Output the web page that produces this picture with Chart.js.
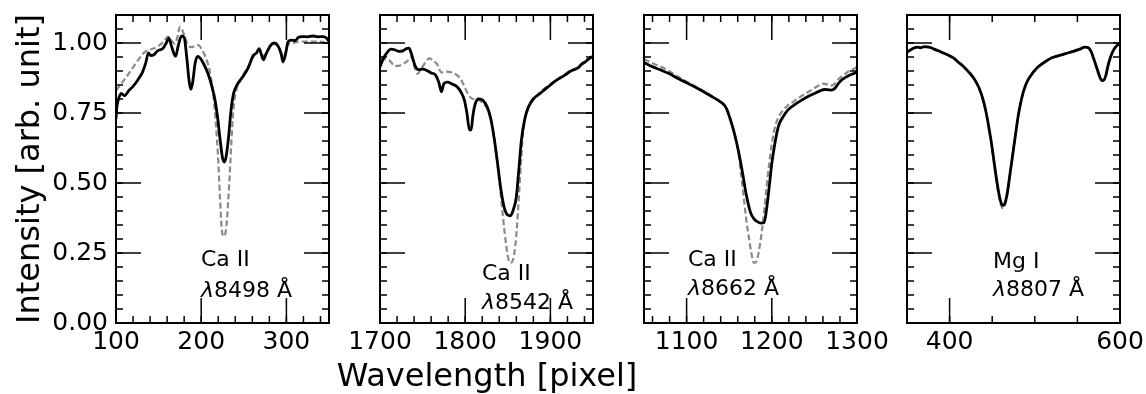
<!DOCTYPE html>
<html><head><meta charset="utf-8">
<script src="https://cdn.jsdelivr.net/npm/chart.js@4"></script>
<style>
html,body{margin:0;padding:0;background:#fff;}
#wrap{position:relative;width:1146px;height:394px;overflow:hidden;font-family:'DejaVu Sans',sans-serif;color:#000;}
canvas{position:absolute;left:0;top:0;}
.t{position:absolute;white-space:nowrap;}
.ann{font-size:22px;line-height:26px;height:26px;}
.ttl{font-size:32px;line-height:40px;height:40px;text-align:center;}
</style></head><body>
<div id="wrap">
<canvas id="c1" width="1146" height="394"></canvas>
<canvas id="c2" width="1146" height="394"></canvas>
<canvas id="c3" width="1146" height="394"></canvas>
<canvas id="c4" width="1146" height="394"></canvas>
<div class="t ttl" style="left:-172px;top:149px;width:400px;transform:rotate(-90deg);">Intensity [arb. unit]</div>
<div class="t ttl" style="left:287px;top:355px;width:400px;">Wavelength [pixel]</div>
<div class="t ann" style="left:201px;top:246px;">Ca II</div>
<div class="t ann" style="left:201px;top:277px;"><i>λ</i>8498 Å</div>
<div class="t ann" style="left:482px;top:260px;">Ca II</div>
<div class="t ann" style="left:482px;top:289px;"><i>λ</i>8542 Å</div>
<div class="t ann" style="left:688px;top:246px;">Ca II</div>
<div class="t ann" style="left:688px;top:275px;"><i>λ</i>8662 Å</div>
<div class="t ann" style="left:993px;top:248px;">Mg I</div>
<div class="t ann" style="left:993px;top:276px;"><i>λ</i>8807 Å</div>
</div>
<script>
// ---------- Panel 1: Ca II 8498 ----------
const p1SolidX = [100,101,103,106,110,115,120,126,131,135,138,141,144,149,155,159,162,165,168,170,173,177,180,183,186,188,190,193,196,199,203,208,213,216,219,222,225,227,229,232,235,238,242,249,255,261,265,268,271,273,276,281,286,290,294,296,299,302,306,310,314,318,325,331,337,343,347,350];
const p1SolidY = [0.73,0.77,0.80,0.82,0.812,0.83,0.845,0.87,0.895,0.93,0.965,0.955,0.957,0.973,0.98,1.0,1.017,0.99,0.962,0.952,0.99,1.025,1.02,0.95,0.86,0.835,0.86,0.93,0.952,0.945,0.925,0.89,0.84,0.80,0.74,0.66,0.59,0.575,0.59,0.66,0.76,0.82,0.85,0.88,0.91,0.955,0.965,0.98,0.955,0.94,0.96,0.99,1.0,0.99,0.96,0.933,0.96,1.005,1.01,1.008,1.02,1.023,1.022,1.025,1.022,1.023,1.018,1.005];
const p1DashX = [100,105,110,117,125,132,138,144,150,156,161,166,169,172,175,178,181,185,189,193,197,201,205,210,214,217,220,222,224,226,228,230,232,234,236,238,241,245,250,256,262,268,272,276,282,287,291,295,298,302,308,315,325,335,345,350];
const p1DashY = [0.83,0.85,0.87,0.90,0.935,0.963,0.975,0.98,0.99,1.005,1.023,1.005,0.998,1.02,1.058,1.045,1.02,0.99,0.985,0.99,0.992,0.975,0.95,0.90,0.82,0.72,0.58,0.45,0.34,0.31,0.315,0.36,0.45,0.56,0.68,0.77,0.83,0.86,0.89,0.92,0.955,0.975,0.955,0.96,0.99,0.995,0.985,0.95,0.955,0.995,1.0,1.005,1.005,1.005,1.002,0.995];

// ---------- Panel 2: Ca II 8542 ----------
const p2SolidX = [1700,1704,1708,1713,1718,1722,1727,1731,1734,1737,1741,1745,1750,1755,1760,1765,1769,1772,1775,1779,1785,1790,1795,1799,1802,1805,1807,1809,1812,1816,1821,1826,1830,1834,1838,1842,1846,1850,1853,1856,1860,1863,1866,1870,1874,1880,1888,1895,1900,1906,1911,1917,1923,1928,1932,1937,1941,1946,1950];
const p2SolidY = [0.915,0.945,0.965,0.978,0.975,0.97,0.972,0.98,0.982,0.96,0.92,0.905,0.907,0.902,0.893,0.886,0.86,0.826,0.855,0.86,0.853,0.845,0.825,0.796,0.75,0.69,0.69,0.74,0.785,0.80,0.795,0.77,0.73,0.66,0.57,0.475,0.41,0.385,0.383,0.40,0.45,0.55,0.654,0.73,0.77,0.80,0.82,0.838,0.85,0.865,0.874,0.885,0.898,0.905,0.91,0.925,0.933,0.945,0.952];
const p2DashX = [1700,1706,1712,1717,1721,1727,1732,1737,1740,1744,1748,1752,1758,1763,1767,1772,1778,1784,1790,1795,1799,1804,1809,1814,1819,1824,1829,1833,1837,1841,1845,1848,1851,1853,1856,1859,1862,1865,1868,1872,1878,1885,1892,1900,1908,1915,1922,1930,1938,1945,1950];
const p2DashY = [0.945,0.942,0.935,0.918,0.918,0.925,0.935,0.95,0.92,0.89,0.905,0.925,0.945,0.935,0.925,0.895,0.898,0.895,0.886,0.87,0.845,0.815,0.80,0.80,0.79,0.775,0.74,0.68,0.59,0.48,0.36,0.28,0.225,0.215,0.225,0.28,0.40,0.55,0.68,0.75,0.795,0.815,0.835,0.853,0.87,0.885,0.898,0.91,0.93,0.945,0.955];

// ---------- Panel 3: Ca II 8662 ----------
const p3SolidX = [1050,1060,1070,1080,1090,1100,1110,1120,1130,1137,1142,1147,1151,1155,1159,1163,1166,1169,1172,1175,1179,1183,1187,1191,1194,1197,1200,1203,1206,1209,1214,1219,1226,1235,1243,1250,1256,1262,1266,1270,1274,1278,1282,1287,1292,1297,1300];
const p3SolidY = [0.93,0.915,0.903,0.89,0.873,0.858,0.843,0.826,0.808,0.795,0.785,0.765,0.73,0.69,0.64,0.58,0.53,0.475,0.43,0.395,0.372,0.362,0.357,0.358,0.41,0.487,0.57,0.63,0.68,0.713,0.74,0.761,0.778,0.796,0.81,0.82,0.828,0.834,0.833,0.832,0.838,0.855,0.868,0.878,0.886,0.892,0.898];
const p3DashX = [1050,1060,1070,1080,1090,1100,1110,1120,1130,1138,1145,1150,1155,1158,1161,1164,1167,1170,1173,1176,1179,1182,1185,1188,1191,1194,1197,1200,1203,1207,1212,1218,1225,1232,1240,1248,1255,1260,1264,1268,1272,1278,1284,1290,1296,1300];
const p3DashY = [0.943,0.928,0.915,0.898,0.88,0.862,0.845,0.828,0.81,0.795,0.775,0.74,0.69,0.65,0.608,0.53,0.45,0.37,0.308,0.25,0.215,0.22,0.26,0.32,0.40,0.49,0.57,0.64,0.69,0.73,0.755,0.775,0.79,0.805,0.82,0.835,0.848,0.855,0.853,0.848,0.85,0.87,0.885,0.898,0.907,0.915];

// ---------- Panel 4: Mg I 8807 ----------
const p4SolidX = [350,354,358,362,366,370,374,378,382,386,392,398,404,410,416,422,428,433,437,440,443,446,449,452,455,458,461,463,465,468,471,474,477,480,483,487,492,498,504,512,520,528,536,544,552,559,563,566,569,572,575,578,580,583,586,589,593,597,600];
const p4SolidY = [0.968,0.975,0.982,0.985,0.983,0.987,0.986,0.983,0.978,0.973,0.965,0.957,0.948,0.932,0.917,0.898,0.876,0.85,0.82,0.79,0.75,0.70,0.645,0.58,0.515,0.46,0.425,0.42,0.428,0.47,0.535,0.60,0.665,0.73,0.78,0.83,0.868,0.895,0.915,0.933,0.947,0.955,0.962,0.969,0.977,0.985,0.983,0.97,0.945,0.918,0.89,0.868,0.866,0.88,0.92,0.951,0.978,0.993,0.997];
const p4DashX = [350,356,362,368,374,380,386,392,398,404,410,416,422,428,433,437,440,443,446,449,452,455,458,461,463,465,468,471,474,477,480,483,487,492,498,504,512,520,528,536,544,552,559,563,566,569,572,575,578,580,583,586,589,593,597,600];
const p4DashY = [0.966,0.978,0.984,0.985,0.985,0.98,0.972,0.964,0.956,0.947,0.931,0.916,0.897,0.874,0.848,0.818,0.787,0.746,0.695,0.638,0.572,0.505,0.45,0.415,0.41,0.42,0.465,0.53,0.597,0.663,0.728,0.779,0.829,0.867,0.894,0.914,0.932,0.946,0.954,0.961,0.968,0.976,0.984,0.982,0.969,0.944,0.917,0.889,0.867,0.865,0.879,0.919,0.95,0.977,0.992,0.996];

// ---------- Axes / ticks ----------
const yRange = [0, 1.1];
const yMajorTicks = [0, 0.25, 0.5, 0.75, 1.0];
const yMinorStep = 0.05;
const p1XRange = [100, 350], p1XTicks = [100, 200, 300];
const p2XRange = [1700, 1950], p2XTicks = [1700, 1800, 1900];
const p3XRange = [1050, 1300], p3XTicks = [1100, 1200, 1300];
const p4XRange = [350, 600], p4XTicks = [400, 600];
const xMinorSteps = [20, 20, 20, 50];

const FONT = "'DejaVu Sans', sans-serif";
const W = 1146, H = 394;
const AREA_TOP = 15, AREA_BOTTOM = 323, AREA_W = 213;
const panelLefts = [116, 380, 644, 907];

const frameTicks = {
  id: 'frameTicks',
  afterDraw(chart) {
    const o = chart.options.plugins.frameTicks;
    const {ctx, chartArea: a} = chart;
    const xs = chart.scales.x, ys = chart.scales.y;
    const MAJ = 25, MIN = 7;
    ctx.save();
    ctx.strokeStyle = '#000';
    ctx.lineCap = 'butt';
    const seg = (x1, y1, x2, y2) => { ctx.beginPath(); ctx.moveTo(x1, y1); ctx.lineTo(x2, y2); ctx.stroke(); };
    const minorVals = (lo, hi, step) => {
      const out = [];
      const k0 = Math.ceil(lo / step - 1e-9), k1 = Math.floor(hi / step + 1e-9);
      for (let k = k0; k <= k1; k++) out.push(k * step);
      return out;
    };
    ctx.lineWidth = 1.5;
    minorVals(xs.min, xs.max, o.xMinor).forEach(v => {
      const p = xs.getPixelForValue(v);
      seg(p, a.bottom, p, a.bottom - MIN); seg(p, a.top, p, a.top + MIN);
    });
    o.xMajor.forEach(v => {
      const p = xs.getPixelForValue(v);
      seg(p, a.bottom, p, a.bottom - MAJ); seg(p, a.top, p, a.top + MAJ);
    });
    minorVals(ys.min, ys.max, o.yMinor).forEach(v => {
      const p = ys.getPixelForValue(v);
      seg(a.left, p, a.left + MIN, p); seg(a.right, p, a.right - MIN, p);
    });
    o.yMajor.forEach(v => {
      const p = ys.getPixelForValue(v);
      seg(a.left, p, a.left + MAJ, p); seg(a.right, p, a.right - MAJ, p);
    });
    ctx.lineWidth = 2;
    ctx.strokeRect(a.left, a.top, a.right - a.left, a.bottom - a.top);
    ctx.restore();
  }
};

function pts(xs, ys) { return xs.map((x, i) => ({x, y: ys[i]})); }

function makePanel(idx, canvasId, xRange, xTicks, sx, sy, dx, dy, showY) {
  const left = panelLefts[idx];
  return new Chart(document.getElementById(canvasId), {
    type: 'line',
    data: {
      datasets: [
        {data: pts(sx, sy), borderColor: '#000', borderWidth: 2.8, pointRadius: 0, cubicInterpolationMode: 'monotone', fill: false},
        {data: pts(dx, dy), borderColor: '#8a8a8a', borderWidth: 2.2, borderDash: [6, 3], pointRadius: 0, cubicInterpolationMode: 'monotone', fill: false}
      ]
    },
    options: {
      responsive: false, animation: false, devicePixelRatio: 1,
      events: [],
      layout: {padding: {left: 0, right: W - left - AREA_W, top: AREA_TOP, bottom: 0}},
      plugins: {
        legend: {display: false}, tooltip: {enabled: false}, title: {display: false},
        frameTicks: {xMajor: xTicks, xMinor: xMinorSteps[idx], yMajor: yMajorTicks, yMinor: yMinorStep}
      },
      scales: {
        x: {
          type: 'linear', position: 'bottom', min: xRange[0], max: xRange[1], offset: false,
          grid: {display: false, drawTicks: false}, border: {display: false},
          afterBuildTicks: s => { s.ticks = xTicks.map(v => ({value: v})); },
          afterFit: s => { s.height = H - AREA_BOTTOM; s.paddingLeft = 0; s.paddingRight = 0; s.paddingTop = 0; s.paddingBottom = 0; },
          ticks: {autoSkip: false, maxRotation: 0, minRotation: 0, padding: 4, color: '#000',
                  font: {family: FONT, size: 25}, callback: v => String(v)}
        },
        y: {
          type: 'linear', position: 'left', min: yRange[0], max: yRange[1],
          grid: {display: false, drawTicks: false}, border: {display: false},
          afterBuildTicks: s => { s.ticks = yMajorTicks.map(v => ({value: v})); },
          afterFit: s => { s.width = left; s.paddingLeft = 0; s.paddingRight = 0; s.paddingTop = 0; s.paddingBottom = 0; },
          ticks: {display: showY, autoSkip: false, padding: 8, color: '#000',
                  font: {family: FONT, size: 25}, callback: v => Number(v).toFixed(2)}
        }
      }
    },
    plugins: [frameTicks]
  });
}

makePanel(0, 'c1', p1XRange, p1XTicks, p1SolidX, p1SolidY, p1DashX, p1DashY, true);
makePanel(1, 'c2', p2XRange, p2XTicks, p2SolidX, p2SolidY, p2DashX, p2DashY, false);
makePanel(2, 'c3', p3XRange, p3XTicks, p3SolidX, p3SolidY, p3DashX, p3DashY, false);
makePanel(3, 'c4', p4XRange, p4XTicks, p4SolidX, p4SolidY, p4DashX, p4DashY, false);
</script>
</body></html>
